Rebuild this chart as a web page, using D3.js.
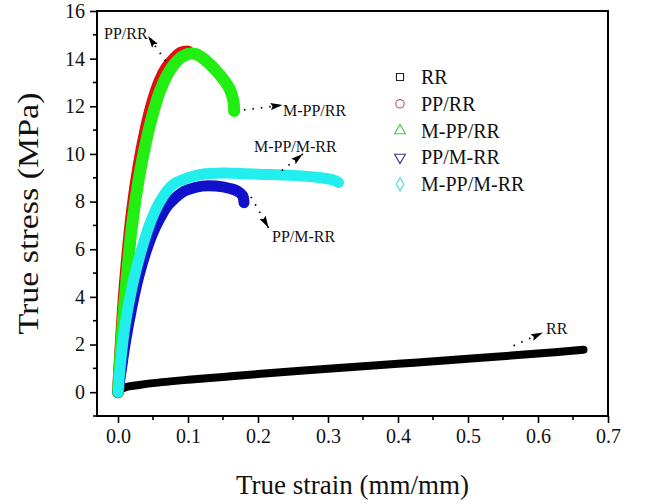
<!DOCTYPE html>
<html><head><meta charset="utf-8">
<script src="https://cdn.jsdelivr.net/npm/d3@7/dist/d3.min.js"></script>
<style>body{margin:0;background:#fff}svg{display:block}text{font-family:"Liberation Serif","Times New Roman",serif;fill:#111}</style>
</head><body><svg id="c" width="663" height="504"></svg>
<script>
// Data (strain mm/mm, stress MPa)
const seriesNames = ["RR","PP/RR","M-PP/RR","PP/M-RR","M-PP/M-RR"];
const rrStrain   = [0,0.01,0.03,0.05,0.1,0.15,0.2,0.3,0.4,0.5,0.6,0.665];
const rrStress   = [0.05,0.2,0.3,0.38,0.52,0.64,0.76,0.98,1.19,1.4,1.62,1.78];
const pprrStrain = [0,0.005,0.01,0.02,0.03,0.04,0.05,0.06,0.07,0.08,0.09,0.1];
const pprrStress = [0,2.5,4.6,7.6,9.6,11.1,12.25,13.1,13.65,14.0,14.25,14.3];
const mpprrStrain= [0,0.005,0.01,0.02,0.03,0.04,0.05,0.06,0.07,0.08,0.09,0.1,0.11,0.12,0.13,0.14,0.15,0.16,0.165,0.166];
const mpprrStress= [0,2.2,4.0,7.0,9.0,10.5,11.7,12.65,13.3,13.75,14.05,14.2,14.2,14.05,13.8,13.5,13.15,12.7,12.2,11.8];
const ppmrrStrain= [0,0.005,0.01,0.02,0.03,0.04,0.05,0.06,0.07,0.08,0.09,0.1,0.12,0.14,0.16,0.17,0.178,0.18];
const ppmrrStress= [0,1.0,2.0,3.6,4.9,5.9,6.7,7.3,7.8,8.1,8.35,8.5,8.65,8.65,8.55,8.45,8.25,7.95];
const mppmrrStrain=[0,0.005,0.01,0.02,0.03,0.04,0.05,0.06,0.07,0.08,0.1,0.12,0.15,0.2,0.25,0.29,0.31,0.315];
const mppmrrStress=[0,1.6,2.8,4.4,5.6,6.6,7.4,8.0,8.45,8.75,9.0,9.15,9.2,9.15,9.1,9.0,8.88,8.8];
const xTicks = [0,0.1,0.2,0.3,0.4,0.5,0.6,0.7];
const yTicks = [0,2,4,6,8,10,12,14,16];

const colors = ["#000000","#e01010","#22ee11","#1111cc","#22eeee"];
const legendColors = ["#222222","#b06060","#44cc44","#333388","#44dddd"];
const symbols = [d3.symbolSquare, d3.symbolCircle, d3.symbolTriangle, d3.symbolTriangle, d3.symbolDiamond];

const svg = d3.select("#c");
const L=97, R=608, T=11, B=416;
const x = d3.scaleLinear().domain([-0.03,0.7]).range([L,R]);
const y = d3.scaleLinear().domain([-1,16]).range([B,T]);

const seriesData = [
  d3.zip(rrStrain,rrStress), d3.zip(pprrStrain,pprrStress), d3.zip(mpprrStrain,mpprrStress),
  d3.zip(ppmrrStrain,ppmrrStress), d3.zip(mppmrrStrain,mppmrrStress)
];
const widths = [8,12,12,11,11];
const line = d3.line().x(d=>x(d[0])).y(d=>y(d[1])).curve(d3.curveCatmullRom.alpha(0.5));
const g = svg.append("g");
seriesData.forEach((s,i)=>{
  g.append("path").attr("d",line(s)).attr("fill","none").attr("stroke",colors[i])
   .attr("stroke-width",widths[i]).attr("stroke-linecap","round").attr("stroke-linejoin","round");
});

// Axes
const xAxis = d3.axisBottom(x).tickValues(xTicks).tickSize(7).tickPadding(6).tickFormat(d3.format(".1f"));
const yAxis = d3.axisLeft(y).tickValues(yTicks).tickSize(7).tickPadding(5).tickFormat(d3.format("d"));
const gx = svg.append("g").attr("transform",`translate(0,${B})`).call(xAxis);
const gy = svg.append("g").attr("transform",`translate(${L},0)`).call(yAxis);
svg.append("g").selectAll("line").data(d3.range(0.05,0.7,0.1)).join("line")
  .attr("x1",d=>x(d)).attr("x2",d=>x(d)).attr("y1",B).attr("y2",B+4).attr("stroke","#000").attr("stroke-width",1.6);
svg.append("g").selectAll("line").data(d3.range(-1,16,2)).join("line")
  .attr("y1",d=>y(d)).attr("y2",d=>y(d)).attr("x1",L).attr("x2",L-4).attr("stroke","#000").attr("stroke-width",1.6);
[gx,gy].forEach(a=>{a.select(".domain").remove();a.selectAll("line").attr("stroke","#000").attr("stroke-width",1.6);
  a.selectAll("text").attr("font-size",20).style("font-family","Liberation Serif").attr("fill","#111");});
svg.append("rect").attr("x",L).attr("y",T).attr("width",R-L).attr("height",B-T)
  .attr("fill","none").attr("stroke","#000").attr("stroke-width",2);

svg.append("text").attr("x",(L+R)/2).attr("y",494).attr("text-anchor","middle").attr("font-size",27).text("True strain (mm/mm)");
svg.append("text").attr("transform",`translate(38,${(T+B)/2}) rotate(-90)`).attr("text-anchor","middle")
  .attr("font-size",29).attr("textLength",242).attr("lengthAdjust","spacingAndGlyphs").text("True stress (MPa)");

// Legend
const lg = svg.append("g");
seriesNames.forEach((n,i)=>{
  const yy = 77 + i*26.8;
  lg.append("path").attr("d",d3.symbol().type(symbols[i]).size(i===1?55:50)())
    .attr("transform",`translate(400,${yy})${i===3?" rotate(180)":""}`)
    .attr("fill","none").attr("stroke",legendColors[i]).attr("stroke-width",1.1);
  lg.append("text").attr("x",421).attr("y",yy+7).attr("font-size",20).text(n);
});

// Annotations
svg.append("defs").append("marker").attr("id","ah").attr("viewBox","0 0 12 8").attr("refX",12).attr("refY",4)
  .attr("markerWidth",12).attr("markerHeight",8).attr("orient","auto").attr("markerUnits","userSpaceOnUse")
  .append("path").attr("d","M0,0.5 L12,4 L0,7.5 L2,4 Z").attr("fill","#000");
const ann = [
  {t:"PP/RR", tx:104, ty:39, from:[0.068,13.9], to:[0.043,14.95]},
  {t:"M-PP/RR", tx:283, ty:116, from:[0.18,11.85], to:[0.235,12.05]},
  {t:"M-PP/M-RR", tx:254, ty:152, from:[0.234,9.3], to:[0.264,10.0]},
  {t:"PP/M-RR", tx:272, ty:242, from:[0.19,8.2], to:[0.215,6.9]},
  {t:"RR", tx:546, ty:334, from:[0.565,1.95], to:[0.607,2.5]}
];
ann.forEach(a=>{
  svg.append("line").attr("x1",x(a.from[0])).attr("y1",y(a.from[1])).attr("x2",x(a.to[0])).attr("y2",y(a.to[1]))
    .attr("stroke","#000").attr("stroke-width",1.8).attr("stroke-dasharray","1.5,7").attr("marker-end","url(#ah)");
  svg.append("text").attr("x",a.tx).attr("y",a.ty).attr("font-size",16).text(a.t);
});
</script></body></html>
